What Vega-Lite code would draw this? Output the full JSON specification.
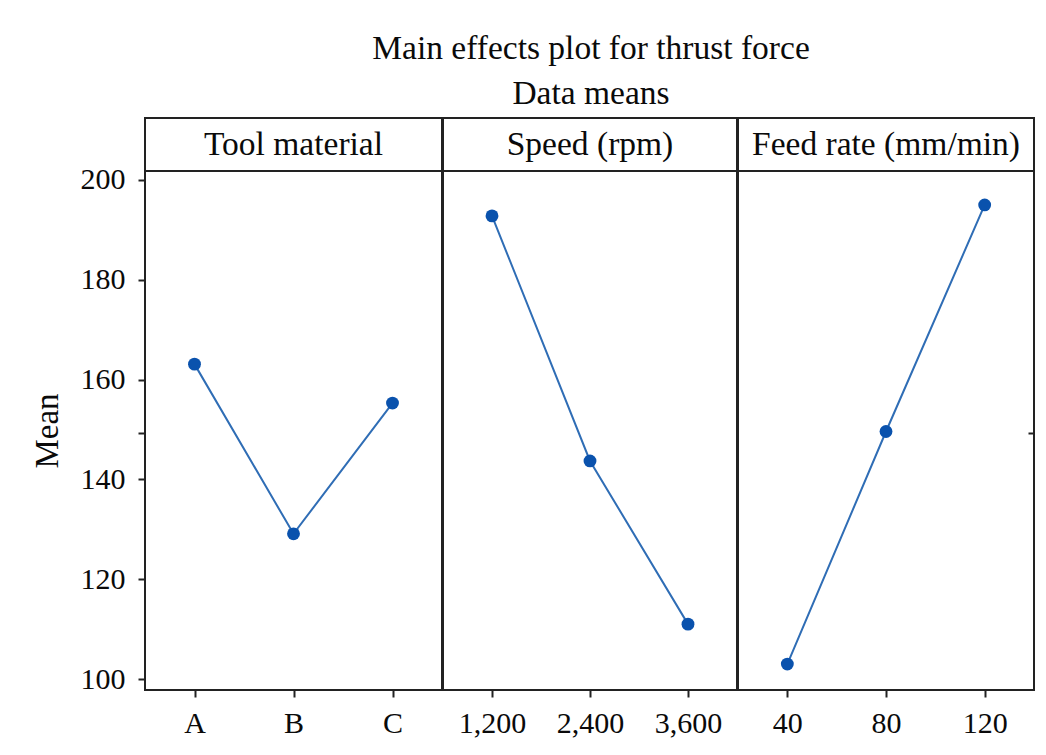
{
  "$schema": "https://vega.github.io/schema/vega-lite/v6.json",
  "background": "white",
  "padding": {"left": 30, "top": 31, "right": 5, "bottom": 5},
  "title": {
    "text": ["Main effects plot for thrust force", "Data means"],
    "font": "Liberation Serif",
    "fontSize": 33.5,
    "fontWeight": "normal",
    "lineHeight": 45,
    "anchor": "middle",
    "frame": "bounds",
    "dx": 58,
    "color": "#0a0a0a",
    "offset": 6
  },
  "datasets": {
    "means": [
      {"factor": "Tool material", "level": "A", "mean": 163.1},
      {"factor": "Tool material", "level": "B", "mean": 129.1},
      {"factor": "Tool material", "level": "C", "mean": 155.3},
      {"factor": "Speed (rpm)", "level": "1,200", "mean": 192.8},
      {"factor": "Speed (rpm)", "level": "2,400", "mean": 143.7},
      {"factor": "Speed (rpm)", "level": "3,600", "mean": 111.0},
      {"factor": "Feed rate (mm/min)", "level": "40", "mean": 103.0},
      {"factor": "Feed rate (mm/min)", "level": "80", "mean": 149.6},
      {"factor": "Feed rate (mm/min)", "level": "120", "mean": 195.0}
    ],
    "headers": [
      {"factor": "Tool material"},
      {"factor": "Speed (rpm)"},
      {"factor": "Feed rate (mm/min)"}
    ]
  },
  "config": {
    "view": {"stroke": "#222222", "strokeWidth": 2},
    "font": "Liberation Serif",
    "axis": {
      "domain": false,
      "grid": false,
      "tickColor": "#222222",
      "tickWidth": 2,
      "tickSize": 7,
      "labelFont": "Liberation Serif",
      "labelFontSize": 30,
      "labelColor": "#0a0a0a",
      "titleFont": "Liberation Serif",
      "titleFontSize": 33,
      "titleFontWeight": "normal",
      "titleColor": "#0a0a0a"
    }
  },
  "spacing": -1,
  "hconcat": [
    {
      "spacing": 0,
      "bounds": "flush",
      "vconcat": [
        {
          "data": {"name": "headers"},
          "transform": [{"filter": "datum.factor === 'Tool material'"}],
          "width": 297,
          "height": 53,
          "mark": {"type": "text", "fontSize": 33.5, "font": "Liberation Serif", "color": "#0a0a0a", "baseline": "middle", "align": "center"},
          "encoding": {
            "x": {"field": "factor", "type": "nominal", "axis": null},
            "y": {"field": "factor", "type": "nominal", "axis": null},
            "text": {"field": "factor"}
          }
        },
        {
          "data": {"name": "means"},
          "transform": [{"filter": "datum.factor === 'Tool material'"}],
          "width": 297,
          "height": 519,
          "encoding": {
            "x": {"field": "level", "type": "ordinal", "sort": null, "axis": {"title": null, "labelAngle": 0, "labelPadding": 11}},
            "y": {
              "field": "mean", "type": "quantitative",
              "scale": {"domain": [97.8, 201.8], "nice": false, "zero": false},
              "axis": {"title": "Mean", "values": [100, 120, 140, 149.2, 160, 180, 200], "labelExpr": "datum.value % 20 === 0 ? datum.label : ''", "labelPadding": 13, "titlePadding": 16}
            }
          },
          "layer": [
            {"mark": {"type": "line", "color": "#2f6db5", "strokeWidth": 2}},
            {"mark": {"type": "point", "filled": true, "color": "#0a52ad", "size": 165, "opacity": 1}}
          ]
        }
      ]
    },
    {
      "spacing": 0,
      "bounds": "flush",
      "vconcat": [
        {
          "data": {"name": "headers"},
          "transform": [{"filter": "datum.factor === 'Speed (rpm)'"}],
          "width": 294,
          "height": 53,
          "mark": {"type": "text", "fontSize": 33.5, "font": "Liberation Serif", "color": "#0a0a0a", "baseline": "middle", "align": "center"},
          "encoding": {
            "x": {"field": "factor", "type": "nominal", "axis": null},
            "y": {"field": "factor", "type": "nominal", "axis": null},
            "text": {"field": "factor"}
          }
        },
        {
          "data": {"name": "means"},
          "transform": [{"filter": "datum.factor === 'Speed (rpm)'"}],
          "width": 294,
          "height": 519,
          "encoding": {
            "x": {"field": "level", "type": "ordinal", "sort": null, "axis": {"title": null, "labelAngle": 0, "labelPadding": 11}},
            "y": {
              "field": "mean", "type": "quantitative",
              "scale": {"domain": [97.8, 201.8], "nice": false, "zero": false},
              "axis": null
            }
          },
          "layer": [
            {"mark": {"type": "line", "color": "#2f6db5", "strokeWidth": 2}},
            {"mark": {"type": "point", "filled": true, "color": "#0a52ad", "size": 165, "opacity": 1}}
          ]
        }
      ]
    },
    {
      "spacing": 0,
      "bounds": "flush",
      "vconcat": [
        {
          "data": {"name": "headers"},
          "transform": [{"filter": "datum.factor === 'Feed rate (mm/min)'"}],
          "width": 296,
          "height": 53,
          "mark": {"type": "text", "fontSize": 33.5, "font": "Liberation Serif", "color": "#0a0a0a", "baseline": "middle", "align": "center"},
          "encoding": {
            "x": {"field": "factor", "type": "nominal", "axis": null},
            "y": {"field": "factor", "type": "nominal", "axis": null},
            "text": {"field": "factor"}
          }
        },
        {
          "data": {"name": "means"},
          "transform": [{"filter": "datum.factor === 'Feed rate (mm/min)'"}],
          "width": 296,
          "height": 519,
          "encoding": {
            "x": {"field": "level", "type": "ordinal", "sort": null, "axis": {"title": null, "labelAngle": 0, "labelPadding": 11}},
            "y": {
              "field": "mean", "type": "quantitative",
              "scale": {"domain": [97.8, 201.8], "nice": false, "zero": false},
              "axis": {"orient": "right", "title": null, "values": [149.2], "labels": false, "tickSize": -6}
            }
          },
          "layer": [
            {"mark": {"type": "line", "color": "#2f6db5", "strokeWidth": 2}},
            {"mark": {"type": "point", "filled": true, "color": "#0a52ad", "size": 165, "opacity": 1}}
          ]
        }
      ]
    }
  ]
}
